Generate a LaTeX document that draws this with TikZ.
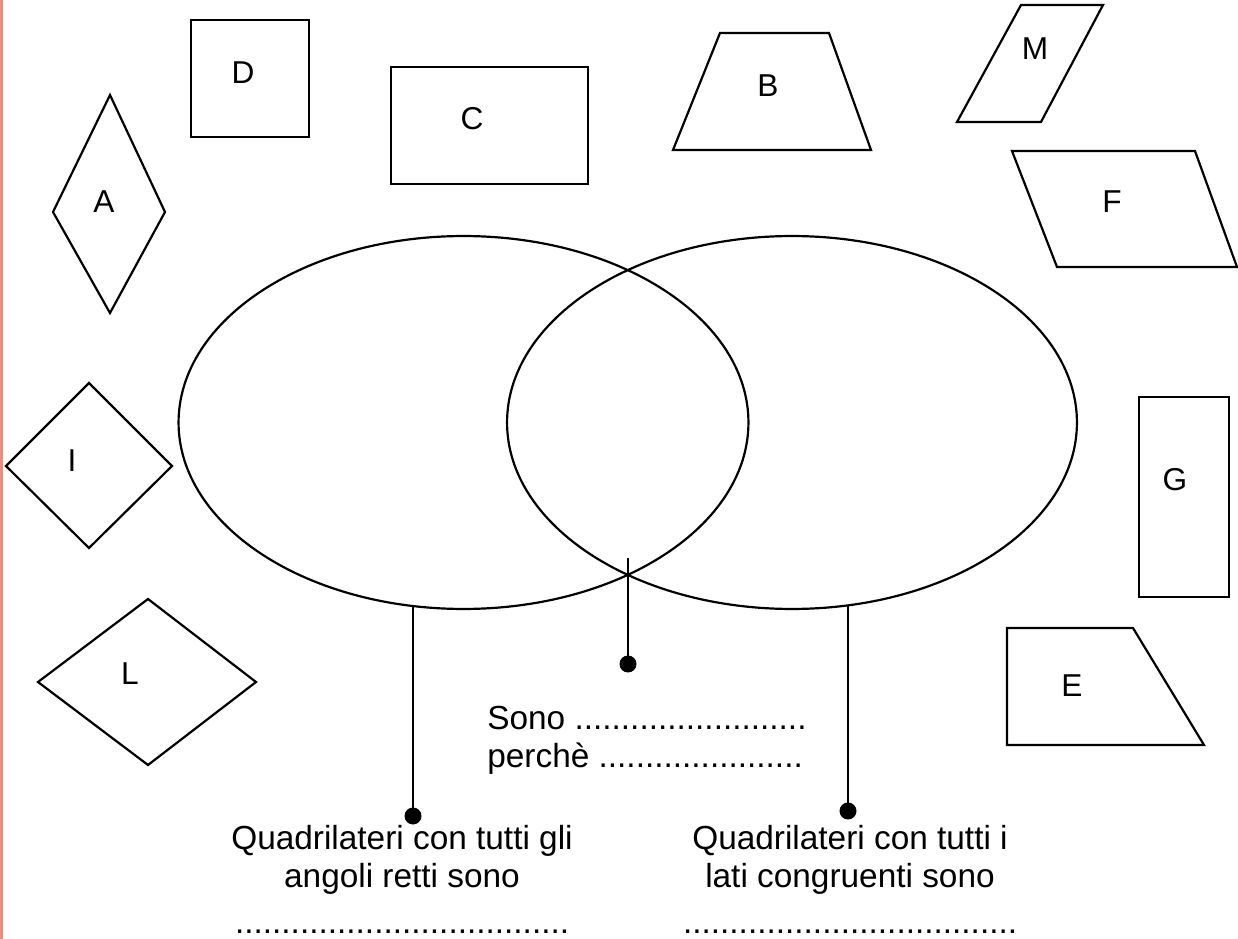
\documentclass[tikz,border=0pt]{standalone}
\usepackage{fontspec}
\setmainfont{Liberation Sans}
\usetikzlibrary{shapes.geometric}
\definecolor{margine}{RGB}{242,138,122}

\begin{document}
\begin{tikzpicture}[
    x=0.02cm, y=-0.02cm,
    figura/.style={draw, line width=1.25pt, line join=miter},
    lettera/.style={font=\fontsize{18}{21}\selectfont, inner sep=0pt},
    insieme/.style={ellipse, draw, line width=1.25pt, minimum width=11.4cm, minimum height=7.46cm, inner sep=0pt},
    pallino/.style={circle, fill, minimum size=0.34cm, inner sep=0pt},
    filo/.style={line width=1.25pt},
    testo/.style={font=\fontsize{19}{21.5}\selectfont, inner sep=0pt}
]
    % area del foglio
    \useasboundingbox (0,0) rectangle (1238,939);
    % margine rosso a sinistra
    \fill[margine] (0,0) rectangle (3.5,939);

    % quadrilateri sparsi intorno agli insiemi
    \draw[figura] (110,95) -- (165,212) -- (110,313) -- (53,212) -- cycle;
    \node[lettera] (A) at (104,202) {A};
    \draw[figura] (191,20) rectangle (309,137);
    \node[lettera] (D) at (243,73) {D};
    \draw[figura] (391,67) rectangle (588,184);
    \node[lettera] (C) at (472,119) {C};
    \draw[figura] (720,33) -- (829,33) -- (871,150) -- (673,150) -- cycle;
    \node[lettera] (B) at (768,86) {B};
    \draw[figura] (1021,5) -- (1103,5) -- (1041,122) -- (957,122) -- cycle;
    \node[lettera] (M) at (1035,49) {M};
    \draw[figura] (1012,151) -- (1195,151) -- (1237,267) -- (1057,267) -- cycle;
    \node[lettera] (F) at (1112,202) {F};
    \draw[figura] (89,383) -- (172,466) -- (89,548) -- (6,466) -- cycle;
    \node[lettera] (I) at (72,461) {I};
    \draw[figura] (148,599) -- (256,682) -- (148,765) -- (38,682) -- cycle;
    \node[lettera] (L) at (130,674) {L};
    \draw[figura] (1139,397) rectangle (1229,597);
    \node[lettera] (G) at (1175,480) {G};
    \draw[figura] (1007,628) -- (1133,628) -- (1204,745) -- (1007,745) -- cycle;
    \node[lettera] (E) at (1072,686) {E};

    % i due insiemi
    \node[insieme] (rettangoli) at (463.5,422.5) {};
    \node[insieme] (rombi) at (792,422.5) {};

    % pallini e fili
    \node[pallino] (pSx) at (413,816) {};
    \node[pallino] (pMezzo) at (628,664) {};
    \node[pallino] (pDx) at (848,811) {};
    \coordinate (cima) at (628,558);
    \draw[filo] (pSx.center) -- (pSx.center |- rettangoli.-105.5);
    \draw[filo] (pDx.center) -- (pDx.center |- rombi.-72.9);
    \draw[filo] (pMezzo.center) -- (cima);

    % testi
    \node[testo, align=left, anchor=north west] (intersezione) at (487,706)
        {Sono .........................\\perchè ......................};
    \node[testo, align=center, anchor=north] (testoSx) at (402,825)
        {Quadrilateri con tutti gli\\angoli retti sono\\[5pt]....................................};
    \node[testo, align=center, anchor=north] (testoDx) at (850,825)
        {Quadrilateri con tutti i\\lati congruenti sono\\[5pt]....................................};
\end{tikzpicture}
\end{document}
